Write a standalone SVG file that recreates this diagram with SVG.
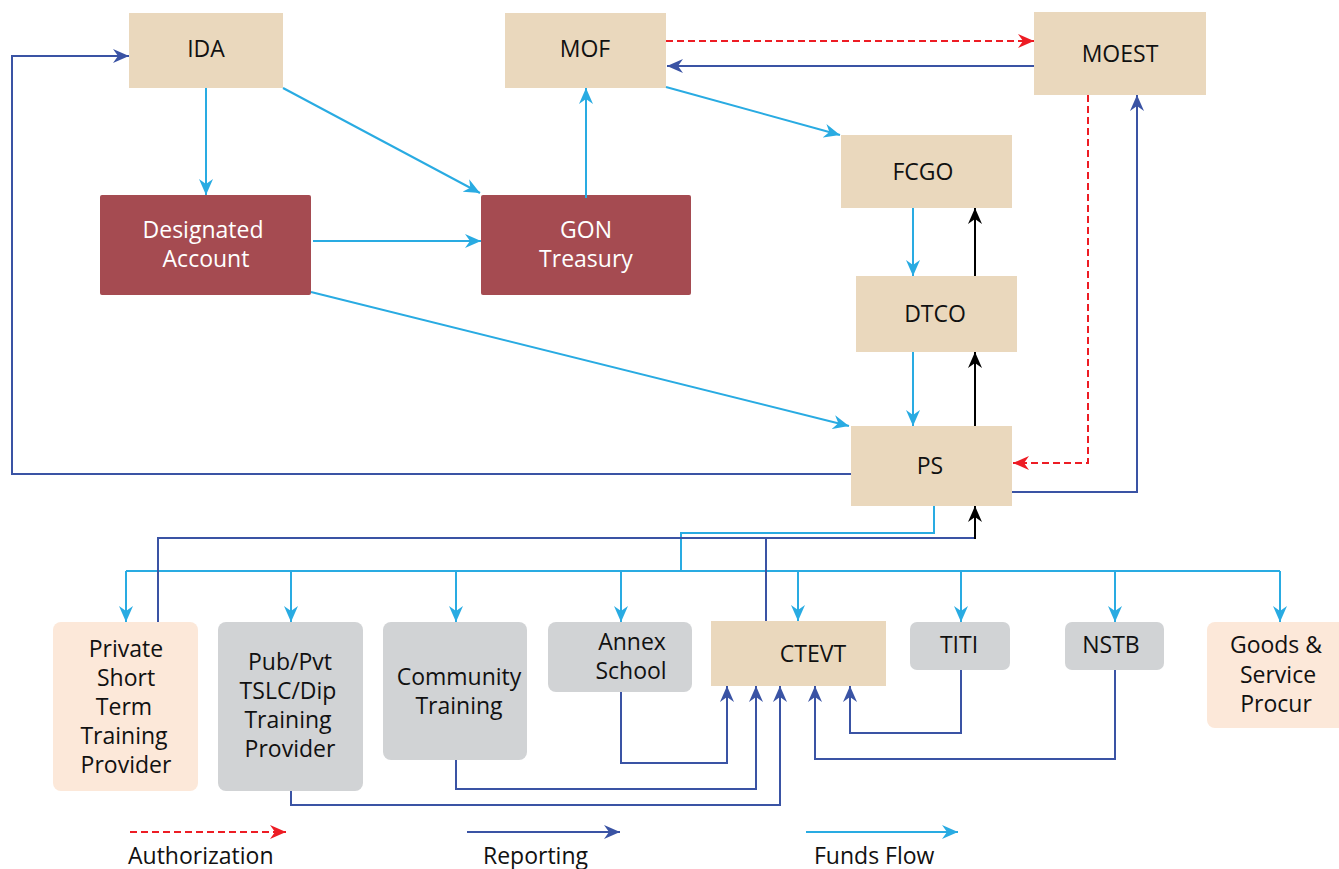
<svg xmlns="http://www.w3.org/2000/svg" width="1339" height="869" viewBox="0 0 1339 869">
<style>
.t{font-family:"Open Sans","Noto Sans","Liberation Sans",sans-serif;font-size:23px;fill:#111;text-anchor:middle}
.w{fill:#fff}
.tan{fill:#ead8bd}
.mar{fill:#a54b51}
.gry{fill:#d1d3d5}
.pch{fill:#fce8d9}
.f{fill:none;stroke:#29abe2;stroke-width:2}
.r{fill:none;stroke:#3a53a4;stroke-width:2}
.k{fill:none;stroke:#000;stroke-width:2}
.a{fill:none;stroke:#ed1c24;stroke-width:2;stroke-dasharray:7 4}
.lg{font-family:"Open Sans","Noto Sans","Liberation Sans",sans-serif;font-size:23px;fill:#111}
</style>
<defs>
<marker id="mf" viewBox="0 0 16 14" refX="16" refY="7" markerWidth="16" markerHeight="14" markerUnits="userSpaceOnUse" orient="auto"><path d="M0,0 L16,7 L0,14 L5,7 z" fill="#29abe2"/></marker>
<marker id="mr" viewBox="0 0 16 14" refX="16" refY="7" markerWidth="16" markerHeight="14" markerUnits="userSpaceOnUse" orient="auto"><path d="M0,0 L16,7 L0,14 L5,7 z" fill="#3a53a4"/></marker>
<marker id="mk" viewBox="0 0 16 14" refX="16" refY="7" markerWidth="16" markerHeight="14" markerUnits="userSpaceOnUse" orient="auto"><path d="M0,0 L16,7 L0,14 L5,7 z" fill="#000"/></marker>
<marker id="ma" viewBox="0 0 16 14" refX="16" refY="7" markerWidth="16" markerHeight="14" markerUnits="userSpaceOnUse" orient="auto"><path d="M0,0 L16,7 L0,14 L5,7 z" fill="#ed1c24"/></marker>
</defs>

<g id="IDA"><rect class="tan" x="129" y="13" width="154" height="75"/><text class="t" x="206" y="57">IDA</text></g>
<g id="MOF"><rect class="tan" x="505" y="13" width="161" height="75"/><text class="t" x="585" y="57">MOF</text></g>
<g id="MOEST"><rect class="tan" x="1034" y="12" width="172" height="83"/><text class="t" x="1120" y="62">MOEST</text></g>
<g id="DesignatedAccount"><rect class="mar" x="100" y="195" width="211" height="100" rx="2"/><text class="t w" x="203" y="238">Designated</text><text class="t w" x="206" y="267">Account</text></g>
<g id="GONTreasury"><rect class="mar" x="481" y="195" width="210" height="100" rx="2"/><text class="t w" x="586" y="238">GON</text><text class="t w" x="586" y="267">Treasury</text></g>
<g id="FCGO"><rect class="tan" x="841" y="135" width="171" height="73"/><text class="t" x="923" y="180">FCGO</text></g>
<g id="DTCO"><rect class="tan" x="856" y="276" width="161" height="76"/><text class="t" x="935" y="322">DTCO</text></g>
<g id="PS"><rect class="tan" x="851" y="426" width="161" height="80"/><text class="t" x="930" y="474">PS</text></g>
<g id="PrivateShortTerm"><rect class="pch" x="53" y="622" width="145" height="169" rx="8"/><text class="t" x="126" y="657">Private</text><text class="t" x="126" y="686">Short</text><text class="t" x="124" y="715">Term</text><text class="t" x="124" y="744">Training</text><text class="t" x="126" y="773">Provider</text></g>
<g id="PubPvt"><rect class="gry" x="218" y="622" width="145" height="169" rx="8"/><text class="t" x="290" y="670">Pub/Pvt</text><text class="t" x="288" y="699">TSLC/Dip</text><text class="t" x="288" y="728">Training</text><text class="t" x="290" y="757">Provider</text></g>
<g id="Community"><rect class="gry" x="383" y="622" width="144" height="138" rx="8"/><text class="t" x="459" y="685">Community</text><text class="t" x="459" y="714">Training</text></g>
<g id="Annex"><rect class="gry" x="548" y="622" width="144" height="70" rx="8"/><text class="t" x="632" y="650">Annex</text><text class="t" x="631" y="679">School</text></g>
<g id="CTEVT"><rect class="tan" x="711" y="621" width="175" height="65"/><text class="t" x="813" y="662">CTEVT</text></g>
<g id="TITI"><rect class="gry" x="910" y="622" width="100" height="48" rx="7"/><text class="t" x="959" y="653">TITI</text></g>
<g id="NSTB"><rect class="gry" x="1065" y="622" width="99" height="48" rx="7"/><text class="t" x="1111" y="653">NSTB</text></g>
<g id="Goods"><rect class="pch" x="1207" y="622" width="140" height="106" rx="8"/><text class="t" x="1276" y="653">Goods &amp;</text><text class="t" x="1278" y="683">Service</text><text class="t" x="1276" y="712">Procur</text></g>

<g id="connectors">
<path class="f" d="M206,88 V195" marker-end="url(#mf)"/>
<path class="f" d="M283,88 L480,193" marker-end="url(#mf)"/>
<path class="f" d="M313,241 H481" marker-end="url(#mf)"/>
<path class="f" d="M586,198 V88" marker-end="url(#mf)"/>
<path class="f" d="M666,87 L840,135" marker-end="url(#mf)"/>
<path class="f" d="M311,292 L849,426" marker-end="url(#mf)"/>
<path class="f" d="M913,208 V276" marker-end="url(#mf)"/>
<path class="f" d="M913,352 V426" marker-end="url(#mf)"/>
<path class="f" d="M934,506 V533 H681 V571"/>
<path class="f" d="M126,571 H1280"/>
<path class="f" d="M126,571 V622" marker-end="url(#mf)"/>
<path class="f" d="M291,571 V622" marker-end="url(#mf)"/>
<path class="f" d="M456,571 V622" marker-end="url(#mf)"/>
<path class="f" d="M621,571 V622" marker-end="url(#mf)"/>
<path class="f" d="M798,571 V621" marker-end="url(#mf)"/>
<path class="f" d="M961,571 V622" marker-end="url(#mf)"/>
<path class="f" d="M1115,571 V622" marker-end="url(#mf)"/>
<path class="f" d="M1280,571 V622" marker-end="url(#mf)"/>

<path class="r" d="M1034,66 H667" marker-end="url(#mr)"/>
<path class="r" d="M1012,492 H1137 V95" marker-end="url(#mr)"/>
<path class="r" d="M851,474 H12 V56 H129" marker-end="url(#mr)"/>
<path class="r" d="M158,622 V538 H975"/>
<path class="r" d="M766,621 V538"/>
<path class="r" d="M621,692 V763 H727 V686" marker-end="url(#mr)"/>
<path class="r" d="M456,760 V789 H756 V686" marker-end="url(#mr)"/>
<path class="r" d="M291,791 V805 H780 V686" marker-end="url(#mr)"/>
<path class="r" d="M1115,670 V759 H815 V686" marker-end="url(#mr)"/>
<path class="r" d="M961,670 V733 H850 V686" marker-end="url(#mr)"/>

<path class="k" d="M975,276 V208" marker-end="url(#mk)"/>
<path class="k" d="M975,426 V352" marker-end="url(#mk)"/>
<path class="k" d="M975,539 V506" marker-end="url(#mk)"/>

<path class="a" d="M666,41 H1034" marker-end="url(#ma)"/>
<path class="a" d="M1088,95 V463 H1013" marker-end="url(#ma)"/>
</g>

<g id="legend">
<path class="a" d="M130,832 H286" marker-end="url(#ma)"/>
<path class="r" d="M467,832 H620" marker-end="url(#mr)"/>
<path class="f" d="M806,832 H958" marker-end="url(#mf)"/>
<text class="lg" x="128" y="864">Authorization</text>
<text class="lg" x="483" y="864">Reporting</text>
<text class="lg" x="814" y="864">Funds Flow</text>
</g>
</svg>
